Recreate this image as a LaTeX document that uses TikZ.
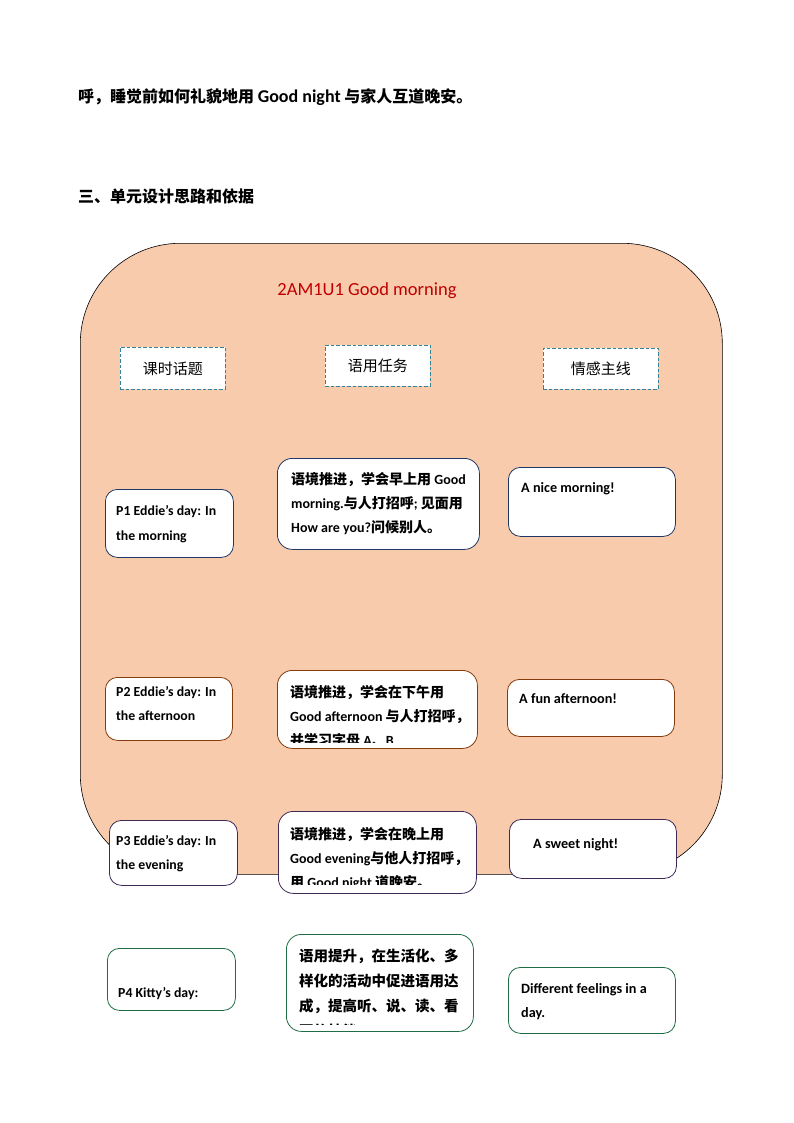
\documentclass[tikz,border=0pt]{standalone}
\usepackage{fontspec}
\setmainfont{Carlito}
\newfontfamily\cjk{Noto Sans CJK SC}
\definecolor{peach}{HTML}{F8CBAD}
\definecolor{titlered}{HTML}{C00000}
\definecolor{hdash}{HTML}{31849B}
\definecolor{cnavy}{HTML}{1F3864}
\definecolor{cbrown}{HTML}{843C0C}
\definecolor{cpurple}{HTML}{3F2A56}
\definecolor{cgreen}{HTML}{1F6E43}
\tikzset{
  x=1pt, y=-1pt,
  pbox/.style={draw=#1, fill=white, rounded corners=12pt, line width=0.8pt, anchor=north west, inner sep=0pt},
  hbox/.style={draw=hdash, fill=white, dash pattern=on 3.5pt off 2pt, line width=0.8pt, anchor=north west, inner sep=0pt},
  ptxt/.style={anchor=base west, inner sep=0pt, font=\bfseries\fontsize{13.8}{13.8}\selectfont},
  ttxt/.style={anchor=base west, inner sep=0pt, font=\bfseries\fontsize{14}{14}\selectfont},
  etxt/.style={anchor=base west, inner sep=0pt, font=\bfseries\fontsize{14.2}{14.2}\selectfont},
  htxt/.style={anchor=center, inner sep=0pt, font=\cjk\fontsize{15}{15}\selectfont},
}
\begin{document}
\begin{tikzpicture}
\useasboundingbox[fill=white] (0,0) rectangle (794,1123);
% heading texts
\node[anchor=base west, inner sep=0pt, font=\bfseries\fontsize{16}{16}\selectfont] (l1) at (78,103) {{\cjk 呼，睡觉前如何礼貌地用} {\fontsize{18}{18}\selectfont Good night} {\cjk 与家人互道晚安。}};
\node[anchor=base west, inner sep=0pt, font=\cjk\bfseries\fontsize{16}{16}\selectfont] (l2) at (78,203) {三、单元设计思路和依据};
% big rounded background
\node[draw=black, fill=peach, line width=0.6pt, rounded corners=100pt, anchor=north west, inner sep=0pt, minimum width=642, minimum height=631] (bg) at (80,243) {};
\node[anchor=base, inner sep=0pt, text=titlered, font=\fontsize{18.5}{18.5}\selectfont] (title) at (367,295) {2AM1U1 Good morning};
% header dashed boxes
\node[hbox, minimum width=105, minimum height=42] (h1) at (120,347) {};
\node[htxt] (h1t) at (h1.center) {课时话题};
\node[hbox, minimum width=105, minimum height=41] (h2) at (325,345) {};
\node[htxt] (h2t) at (h2.center) {语用任务};
\node[hbox, minimum width=115, minimum height=41] (h3) at (543,348) {};
\node[htxt] (h3t) at (h3.center) {情感主线};
% row 1
\node[pbox=cnavy, minimum width=128, minimum height=68] (p1) at (105,489) {};
\node[ptxt] (p1a) at (116,515) {P1 Eddie’s day: In};
\node[ptxt] (p1b) at (116,540) {the morning};
\node[pbox=cnavy, rounded corners=15pt, minimum width=202, minimum height=91] (t1) at (277,458) {};
\node[ttxt] (t1a) at (291,484) {{\cjk 语境推进，学会早上用} Good};
\node[ttxt] (t1b) at (291,508) {morning.{\cjk 与人打招呼}; {\cjk 见面用}};
\node[ttxt] (t1c) at (291,532) {How are you?{\cjk 问候别人。}};
\node[pbox=cnavy, minimum width=167, minimum height=69] (e1) at (508,467) {};
\node[etxt] (e1a) at (521,492) {A nice morning!};
% row 2
\node[pbox=cbrown, minimum width=127, minimum height=63] (p2) at (105,677) {};
\node[ptxt] (p2a) at (116,696) {P2 Eddie’s day: In};
\node[ptxt] (p2b) at (116,720) {the afternoon};
\node[pbox=cbrown, rounded corners=15pt, minimum width=200, minimum height=78] (t2) at (277,670) {};
\begin{scope}
\clip (280,672) rectangle (474,742);
\node[ttxt] (t2a) at (290,697) {{\cjk 语境推进，学会在下午用}};
\node[ttxt] (t2b) at (290,721) {Good afternoon {\cjk 与人打招呼，}};
\node[ttxt] (t2c) at (290,745) {{\cjk 并学习字母} A{\cjk 、}B};
\end{scope}
\node[pbox=cbrown, minimum width=167, minimum height=57] (e2) at (507,679) {};
\node[etxt] (e2a) at (519,703) {A fun afternoon!};
% row 3
\node[pbox=cpurple, minimum width=128, minimum height=65] (p3) at (109,820) {};
\node[ptxt] (p3a) at (116,845) {P3 Eddie’s day: In};
\node[ptxt] (p3b) at (116,869) {the evening};
\node[pbox=cpurple, rounded corners=15pt, minimum width=198, minimum height=82] (t3) at (278,811) {};
\begin{scope}
\clip (281,813) rectangle (473,884);
\node[ttxt] (t3a) at (290,839) {{\cjk 语境推进，学会在晚上用}};
\node[ttxt] (t3b) at (290,863) {Good evening{\cjk 与他人打招呼，}};
\node[ttxt] (t3c) at (290,887) {{\cjk 用} Good night {\cjk 道晚安。}};
\end{scope}
\node[pbox=cpurple, minimum width=167, minimum height=59] (e3) at (509,819) {};
\node[etxt] (e3a) at (533,848) {A sweet night!};
% row 4
\node[pbox=cgreen, minimum width=128, minimum height=62] (p4) at (107,948) {};
\node[ptxt] (p4a) at (118,997) {P4 Kitty’s day:};
\node[pbox=cgreen, rounded corners=15pt, minimum width=187, minimum height=97] (t4) at (286,934) {};
\begin{scope}
\clip (289,936) rectangle (470,1024);
\node[ttxt, font=\cjk\bfseries\fontsize{14.5}{14.5}\selectfont] (t4a) at (299,961) {语用提升，在生活化、多};
\node[ttxt, font=\cjk\bfseries\fontsize{14.5}{14.5}\selectfont] (t4b) at (299,986) {样化的活动中促进语用达};
\node[ttxt, font=\cjk\bfseries\fontsize{14.5}{14.5}\selectfont] (t4c) at (299,1011) {成，提高听、说、读、看};
\node[ttxt, font=\cjk\bfseries\fontsize{14.5}{14.5}\selectfont] (t4d) at (299,1036) {写的技能};
\end{scope}
\node[pbox=cgreen, minimum width=167, minimum height=66] (e4) at (508,967) {};
\node[etxt] (e4a) at (521,993) {Different feelings in a};
\node[etxt] (e4b) at (521,1017) {day.};
\end{tikzpicture}
\end{document}
